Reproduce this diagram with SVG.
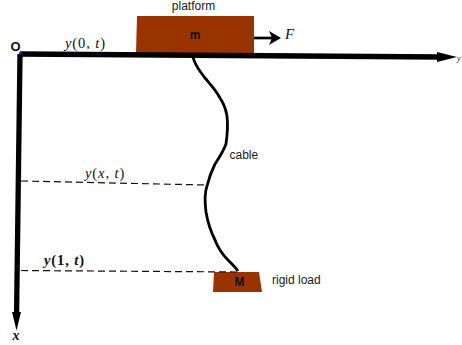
<svg xmlns="http://www.w3.org/2000/svg" width="462" height="345" viewBox="0 0 462 345">
<style>
.s{font-family:"Liberation Sans",Arial,sans-serif;font-size:12px;fill:#1a1a1a}
.b{font-family:"Liberation Sans",Arial,sans-serif;font-size:12px;font-weight:bold;fill:#111}
.m{font-family:"Liberation Serif","Times New Roman",serif;font-size:14.500px;letter-spacing:0.900px;fill:#111}
.i{font-style:italic}
.d{fill:none;stroke:#111;stroke-width:1.200;stroke-dasharray:7 4}
.load{fill:#993300}
.ax{fill:none;stroke:#000;stroke-width:5.300}
.hd{fill:#000}
</style>
<g id="platform"><path class="load" d="M137 16H254V53H136z"/><text class="b" x="195" y="39" text-anchor="middle">m</text><text class="s" x="193.500" y="10" text-anchor="middle">platform</text></g>
<g id="rigid-load"><path class="load" d="M214 272H259L262 292H213z"/><text class="b" x="239.500" y="286" text-anchor="middle">M</text><text class="s" x="272" y="283.500">rigid load</text></g>
<g id="connectors">
<path class="ax" d="M20 54L441 57"/>
<path class="hd" d="M437 52L457 57L437 62z"/>
<path class="ax" d="M20 54L16.500 318"/>
<path class="hd" d="M12 312L16.500 330.500L21 312z"/>
<path d="M254 38H272" fill="none" stroke="#000" stroke-width="2.700"/>
<path class="hd" d="M269 31L281 38L269 45L272 38z"/>
<path class="d" d="M21 181L207 185"/>
<path class="d" d="M21 270.500L238 272"/>
<path d="M193 57C195 66 200 71 205 78C210 84 216 90 220 98C224 104 226 110 227 116C228 125 227 137 226 144C223 152 219 158 215 164C212 170 209 178 207 186C204 194 205 204 206 212C208 224 211 232 215 240C218 248 222 254 228 260C232 264 236 268 238 271" fill="none" stroke="#000" stroke-width="2.800"/>
</g>
<g id="labels">
<text x="15.500" y="50.500" font-family="Liberation Sans,sans-serif" font-size="13" font-weight="bold" text-anchor="middle" fill="#111">O</text>
<circle cx="20.500" cy="53" r="1.500" fill="#2222dd"/>
<text class="m" x="65" y="48"><tspan class="i">y</tspan>(0, <tspan class="i">t</tspan>)</text>
<text class="m" x="85" y="178"><tspan class="i">y</tspan>(<tspan class="i">x</tspan>, <tspan class="i">t</tspan>)</text>
<text class="m" x="44" y="265" font-weight="bold"><tspan class="i">y</tspan>(1, <tspan class="i">t</tspan>)</text>
<text x="285" y="39" font-family="Liberation Serif,serif" font-style="italic" font-size="15" fill="#111">F</text>
<text x="457" y="61" font-family="Liberation Serif,serif" font-style="italic" font-size="8" fill="#111">y</text>
<text x="16" y="340" font-family="Liberation Serif,serif" font-style="italic" font-weight="bold" font-size="14" text-anchor="middle" fill="#111">x</text>
<text class="s" x="229.500" y="159">cable</text>
</g>
</svg>
